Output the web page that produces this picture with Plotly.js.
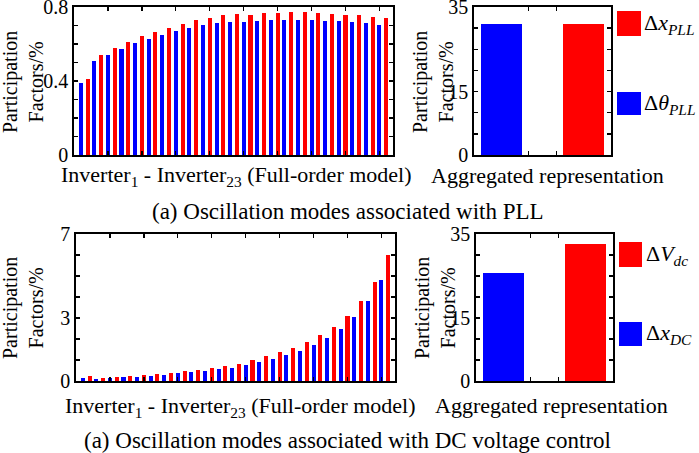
<!DOCTYPE html>
<html>
<head>
<meta charset="utf-8">
<script src="https://cdn.plot.ly/plotly-3.0.1.min.js"></script>
<style>
  html, body { margin: 0; padding: 0; background: #fff; }
  #chart { width: 699px; height: 453px; }
</style>
</head>
<body>
<div id="chart"></div>
<script>
// participation factors per inverter, full-order model (PLL modes)
const pllTheta = [0.388, 0.509, 0.542, 0.572, 0.603, 0.627, 0.650, 0.670, 0.686, 0.701, 0.713, 0.720,
  0.718, 0.724, 0.730, 0.731, 0.731, 0.731, 0.726, 0.722, 0.719, 0.711, 0.704];
const pllX = [0.412, 0.542, 0.578, 0.610, 0.641, 0.666, 0.688, 0.710, 0.728, 0.742, 0.755, 0.763,
  0.758, 0.766, 0.769, 0.771, 0.771, 0.767, 0.762, 0.758, 0.755, 0.748, 0.740];
// DC voltage control modes
const dcX = [0.16, 0.11, 0.14, 0.17, 0.21, 0.25, 0.30, 0.36, 0.41, 0.49, 0.57, 0.63,
  0.78, 0.92, 1.06, 1.25, 1.44, 1.71, 2.06, 2.49, 3.04, 3.80, 4.83];
const dcV = [0.24, 0.16, 0.19, 0.24, 0.29, 0.33, 0.40, 0.46, 0.52, 0.62, 0.70, 0.81,
  1.01, 1.19, 1.36, 1.58, 1.84, 2.17, 2.58, 3.11, 3.80, 4.72, 6.01];
// aggregated representation [blue, red]
const aggPll = [31.0, 30.9];
const aggDc = [25.8, 32.6];

const BLUE = '#0000ff';
const RED = '#ff0000';
const FONT = '"Liberation Serif", "Times New Roman", serif';
const W = 699, H = 453;

// pixel helpers (margins are zero, so paper == pixels)
const px = function (x) { return x / W; };
const py = function (y) { return 1 - y / H; };

const oddPos = pllTheta.map(function (v, i) { return 2 * i + 1; });
const evenPos = pllX.map(function (v, i) { return 2 * i + 2; });

const traces = [
  {type: 'bar', x: oddPos, y: pllTheta, width: 0.6, marker: {color: BLUE}, xaxis: 'x', yaxis: 'y'},
  {type: 'bar', x: evenPos, y: pllX, width: 0.6, marker: {color: RED}, xaxis: 'x', yaxis: 'y'},
  {type: 'bar', x: [1, 2], y: aggPll, width: 0.5, marker: {color: [BLUE, RED]}, xaxis: 'x2', yaxis: 'y2'},
  {type: 'bar', x: oddPos, y: dcX, width: 0.6, marker: {color: BLUE}, xaxis: 'x3', yaxis: 'y3'},
  {type: 'bar', x: evenPos, y: dcV, width: 0.6, marker: {color: RED}, xaxis: 'x3', yaxis: 'y3'},
  {type: 'bar', x: [1, 2], y: aggDc, width: 0.5, marker: {color: [BLUE, RED]}, xaxis: 'x4', yaxis: 'y4'}
];

const baseAxis = {
  showline: true, linecolor: '#000', linewidth: 1.8, mirror: 'ticks',
  ticks: 'inside', ticklen: 4, tickwidth: 1.3, tickcolor: '#000',
  showgrid: false, zeroline: false, fixedrange: true,
  ticklabeloverflow: 'allow',
  tickfont: {family: FONT, size: 20, color: '#000'}
};
const xFull = function (domain, anchor) {
  return Object.assign({}, baseAxis, {
    domain: domain, anchor: anchor, range: [0, 47],
    tickmode: 'array', tickvals: [5, 10, 15, 20, 25, 30, 35, 40, 45], showticklabels: false
  });
};
const xAgg = function (domain, anchor) {
  return Object.assign({}, baseAxis, {
    domain: domain, anchor: anchor, range: [0.667, 2.333],
    tickmode: 'array', tickvals: [1.333, 1.667], showticklabels: false
  });
};
const yAxis = function (domain, anchor, top, step, labels) {
  const vals = [];
  const text = [];
  for (let v = 0; v <= top + 1e-9; v += step) {
    const r = Math.round(v * 100) / 100;
    vals.push(r);
    text.push(labels.indexOf(r) >= 0 ? String(r) : '');
  }
  return Object.assign({}, baseAxis, {
    domain: domain, anchor: anchor, range: [0, top],
    tickmode: 'array', tickvals: vals, ticktext: text
  });
};

const textFont = {family: FONT, size: 22, color: '#000'};
const ann = function (x, y, text, extra) {
  return Object.assign({
    xref: 'paper', yref: 'paper', x: px(x), y: py(y), text: text,
    showarrow: false, xanchor: 'center', yanchor: 'middle', font: textFont
  }, extra || {});
};
const yTitle = function (x, y) {
  return ann(x, y, 'Participation<br>Factors/%', {textangle: -90, font: {family: FONT, size: 20, color: '#000'}});
};
const legFont = {family: FONT, size: 22, color: '#000'};
const swatch = function (x0, y0, x1, y1, color) {
  return {type: 'rect', xref: 'paper', yref: 'paper', x0: px(x0), x1: px(x1), y0: py(y1), y1: py(y0),
    fillcolor: color, line: {width: 0}};
};

const layout = {
  width: W, height: H,
  margin: {l: 0, r: 0, t: 0, b: 0},
  paper_bgcolor: '#fff', plot_bgcolor: '#fff',
  showlegend: false, bargap: 0,
  font: {family: FONT, color: '#000'},
  xaxis: xFull([px(74), px(393)], 'y'),
  yaxis: yAxis([py(155), py(7)], 'x', 0.8, 0.1, [0, 0.4, 0.8]),
  xaxis2: xAgg([px(474), px(611)], 'y2'),
  yaxis2: yAxis([py(155), py(7)], 'x2', 35, 5, [0, 15, 35]),
  xaxis3: xFull([px(76), px(395)], 'y3'),
  yaxis3: yAxis([py(381), py(234)], 'x3', 7, 1, [0, 3, 7]),
  xaxis4: xAgg([px(476), px(613)], 'y4'),
  yaxis4: yAxis([py(381), py(234)], 'x4', 35, 5, [0, 15, 35]),
  shapes: [
    swatch(617, 11, 641, 36, RED),
    swatch(617, 92, 641, 115, BLUE),
    swatch(619, 242, 642, 267, RED),
    swatch(619, 322, 642, 346, BLUE)
  ],
  annotations: [
    yTitle(23, 82),
    yTitle(433, 82),
    yTitle(23, 308),
    yTitle(435, 308),
    ann(236, 176, 'Inverter<sub>1</sub> - Inverter<sub>23</sub> (Full-order model)'),
    ann(547, 175, 'Aggregated representation'),
    ann(348, 212, '(a) Oscillation modes associated with PLL', {font: {family: FONT, size: 23, color: '#000'}}),
    ann(240, 407, 'Inverter<sub>1</sub> - Inverter<sub>23</sub> (Full-order model)'),
    ann(551, 405, 'Aggregated representation'),
    ann(347, 440, '(a) Oscillation modes associated with DC voltage control', {font: {family: FONT, size: 23, color: '#000'}}),
    ann(642, 24, 'Δ<i>x</i><sub><i>PLL</i></sub>', {xanchor: 'left', font: legFont}),
    ann(642, 104, 'Δ<i>θ</i><sub><i>PLL</i></sub>', {xanchor: 'left', font: legFont}),
    ann(644, 255, 'Δ<i>V</i><sub><i>dc</i></sub>', {xanchor: 'left', font: legFont}),
    ann(644, 334, 'Δ<i>x</i><sub><i>DC</i></sub>', {xanchor: 'left', font: legFont})
  ]
};

Plotly.newPlot('chart', traces, layout, {staticPlot: true, displayModeBar: false});
</script>
</body>
</html>
